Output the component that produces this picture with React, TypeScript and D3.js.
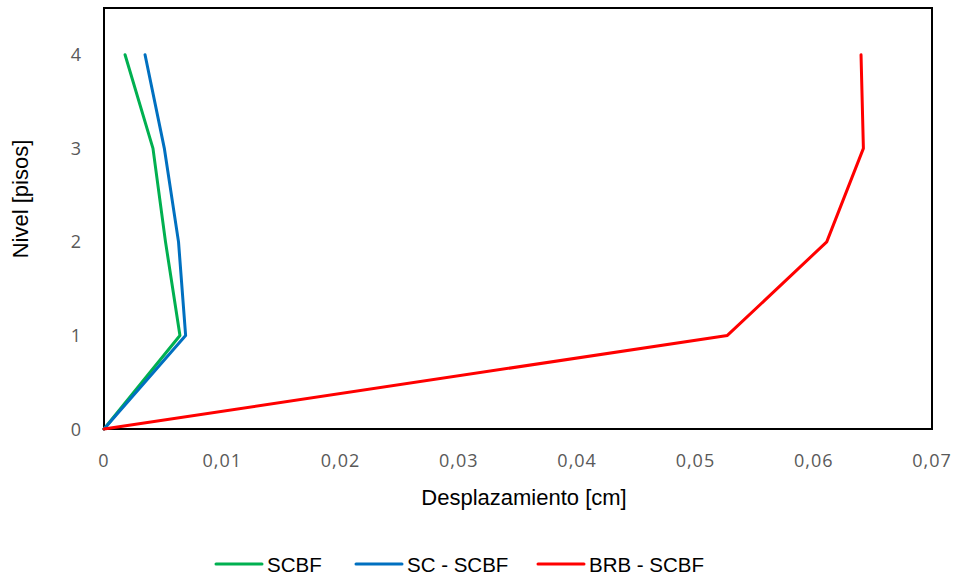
import React from "react";
import * as d3 from "d3";

const levels = [0, 1, 2, 3, 4];
const scbf = [0, 0.00642, 0.0052, 0.00414, 0.00178];
const scScbf = [0, 0.0069, 0.0063, 0.0051, 0.00347];
const brbScbf = [0, 0.0527, 0.0611, 0.0642, 0.064];
const xTicks = [0, 0.01, 0.02, 0.03, 0.04, 0.05, 0.06, 0.07];
const yTicks = [0, 1, 2, 3, 4];
const seriesNames = ["SCBF", "SC - SCBF", "BRB - SCBF"];
const seriesColors = ["#00B050", "#0070C0", "#FF0000"];

export default function App() {
  const W = 960, H = 579;
  const x = d3.scaleLinear().domain([0, 0.07]).range([104, 932]);
  const y = d3.scaleLinear().domain([0, 4.5]).range([429, 8]);
  const line = d3
    .line<[number, number]>()
    .x((d) => x(d[0]))
    .y((d) => y(d[1]));
  const all = [scbf, scScbf, brbScbf];
  const fmt = (v: number) => (v === 0 ? "0" : v.toFixed(2).replace(".", ","));
  const legendX = [216, 356, 538];
  return (
    <svg width={W} height={H} style={{ position: "absolute", left: 0, top: 0, background: "#fff" }}>
      <rect x={0} y={0} width={W} height={H} fill="#fff" />
      <rect x={x(0)} y={y(4.5)} width={x(0.07) - x(0)} height={y(0) - y(4.5)} fill="none" stroke="#000" strokeWidth={2} />
      {xTicks.map((t) => (
        <text key={t} x={x(t)} y={467} textAnchor="middle" fontFamily="Open Sans" fontSize={18} letterSpacing={1} fill="#595959">
          {fmt(t)}
        </text>
      ))}
      {yTicks.map((t) => (
        <text key={t} x={81} y={y(t) + 6.5} textAnchor="end" fontFamily="Open Sans" fontSize={18} fill="#595959">
          {t}
        </text>
      ))}
      <text x={524} y={505} textAnchor="middle" fontFamily="Liberation Sans, Arial" fontSize={22} fill="#000">
        Desplazamiento [cm]
      </text>
      <text transform={`translate(28,199) rotate(-90)`} textAnchor="middle" fontFamily="Liberation Sans, Arial" fontSize={22} fill="#000">
        Nivel [pisos]
      </text>
      {all.map((s, i) => (
        <path
          key={i}
          d={line(s.map((v, j) => [v, levels[j]] as [number, number])) || ""}
          fill="none"
          stroke={seriesColors[i]}
          strokeWidth={3}
          strokeLinecap="round"
          strokeLinejoin="round"
        />
      ))}
      {seriesNames.map((n, i) => (
        <g key={n}>
          <line x1={legendX[i]} x2={legendX[i] + 46} y1={564} y2={564} stroke={seriesColors[i]} strokeWidth={3} strokeLinecap="round" />
          <text x={legendX[i] + 51} y={572} fontFamily="Liberation Sans, Arial" fontSize={20.5} fill="#000">
            {n}
          </text>
        </g>
      ))}
    </svg>
  );
}
